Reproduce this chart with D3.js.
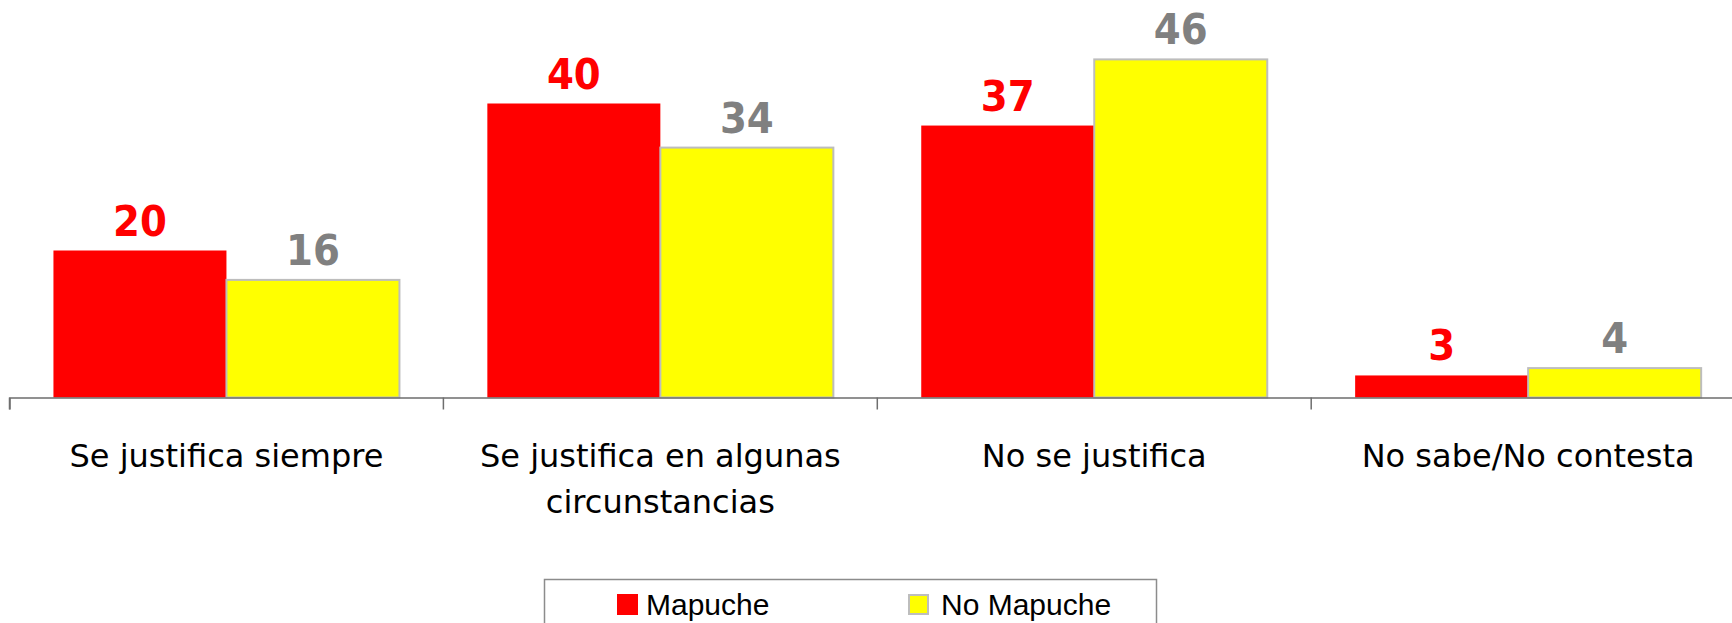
<!DOCTYPE html>
<html>
<head>
<meta charset="utf-8">
<script src="https://cdn.jsdelivr.net/npm/d3@7"></script>
<style>
  html, body { margin: 0; padding: 0; background: #ffffff; overflow: hidden; }
  svg { display: block; }
</style>
</head>
<body>
<svg id="chart" width="1732" height="623"></svg>
<script>
// ---- data ----
const categories = [
  "Se justifica siempre",
  "Se justifica en algunas circunstancias",
  "No se justifica",
  "No sabe/No contesta"
];
const seriesNames = ["Mapuche", "No Mapuche"];
const mapuche = [20, 40, 37, 3];
const noMapuche = [16, 34, 46, 4];

// ---- styles ----
const fills = ["#FF0000", "#FFFF00"];
const strokes = ["none", "#BDBDBD"];
const labelColors = ["#FF0000", "#808080"];

const svg = d3.select("#chart");

const baseY = 397.5;
const x0 = d3.scaleBand().domain(categories).range([9.5, 9.5 + 4 * 433.9]).paddingInner(0).paddingOuter(0);
const x1 = d3.scaleBand().domain(seriesNames).range([0, x0.bandwidth()]).paddingInner(0).paddingOuter(0.254);
const y = d3.scaleLinear().domain([0, 50]).range([baseY, baseY - 50 * 7.35]);

const rows = categories.map((c, i) => ({ cat: c, values: [mapuche[i], noMapuche[i]] }));

// bars
const groups = svg.append("g").selectAll("g").data(rows).join("g")
  .attr("transform", d => `translate(${x0(d.cat)},0)`);

groups.selectAll("rect").data(d => d.values.map((v, j) => ({ v, j, s: seriesNames[j] })))
  .join("rect")
  .attr("x", d => x1(d.s))
  .attr("y", d => y(d.v))
  .attr("width", x1.bandwidth())
  .attr("height", d => y(0) - y(d.v))
  .attr("fill", d => fills[d.j])
  .attr("stroke", d => strokes[d.j])
  .attr("stroke-width", 2);

// value labels
groups.selectAll("text.val").data(d => d.values.map((v, j) => ({ v, j, s: seriesNames[j] })))
  .join("text")
  .attr("class", "val")
  .attr("x", d => x1(d.s) + x1.bandwidth() / 2)
  .attr("y", d => y(d.v) - 15)
  .attr("text-anchor", "middle")
  .attr("font-family", "'DejaVu Sans Condensed', 'DejaVu Sans', sans-serif")
  .attr("font-stretch", "condensed")
  .attr("font-weight", 700)
  .attr("font-size", 43)
  .attr("fill", d => labelColors[d.j])
  .text(d => d.v);

// axis
const axis = d3.axisBottom(x0).tickSize(0).tickSizeOuter(12).tickFormat("");
const axG = svg.append("g").attr("transform", `translate(0,${baseY})`).call(axis);
axG.select(".domain").attr("stroke", "#6e6e6e").attr("stroke-width", 1.5);
axG.selectAll(".tick").remove();
axG.selectAll("line.sep").data(categories).join("line")
  .attr("class", "sep")
  .attr("x1", d => x0(d)).attr("x2", d => x0(d))
  .attr("y1", 0).attr("y2", 12)
  .attr("stroke", "#6e6e6e").attr("stroke-width", 1.5);

// category labels (wrapped)
const catG = svg.append("g");
categories.forEach(c => {
  const cx = x0(c) + x0.bandwidth() / 2;
  const t = catG.append("text")
    .attr("x", cx)
    .attr("y", 466.5)
    .attr("text-anchor", "middle")
    .attr("font-family", "'DejaVu Sans', Verdana, sans-serif")
    .attr("font-size", 32)
    .attr("fill", "#000");
  const words = c.split(" ");
  let line = [];
  let tspan = t.append("tspan").attr("x", cx).attr("dy", 0);
  words.forEach(w => {
    line.push(w);
    tspan.text(line.join(" "));
    if (tspan.node().getComputedTextLength() > x0.bandwidth() - 20 && line.length > 1) {
      line.pop();
      tspan.text(line.join(" "));
      line = [w];
      tspan = t.append("tspan").attr("x", cx).attr("dy", 46).text(w);
    }
  });
});

// legend
const leg = svg.append("g");
leg.append("rect")
  .attr("x", 544.5).attr("y", 579.5)
  .attr("width", 612).attr("height", 80)
  .attr("fill", "#ffffff")
  .attr("stroke", "#8c8c8c").attr("stroke-width", 1.5);
const legItems = leg.selectAll("g.item").data(seriesNames).join("g")
  .attr("class", "item")
  .attr("transform", (d, i) => `translate(${617 + i * 291},0)`);
legItems.append("rect")
  .attr("x", (d, i) => i === 0 ? 0 : 1)
  .attr("y", (d, i) => i === 0 ? 594 : 595)
  .attr("width", (d, i) => i === 0 ? 21 : 19)
  .attr("height", (d, i) => i === 0 ? 21 : 19)
  .attr("fill", (d, i) => fills[i])
  .attr("stroke", (d, i) => strokes[i])
  .attr("stroke-width", 2);
legItems.append("text")
  .attr("x", (d, i) => i === 0 ? 29 : 33)
  .attr("y", 614.5)
  .attr("font-family", "'Liberation Sans', Arial, sans-serif")
  .attr("font-size", 30)
  .attr("fill", "#000")
  .text(d => d);
</script>
</body>
</html>
